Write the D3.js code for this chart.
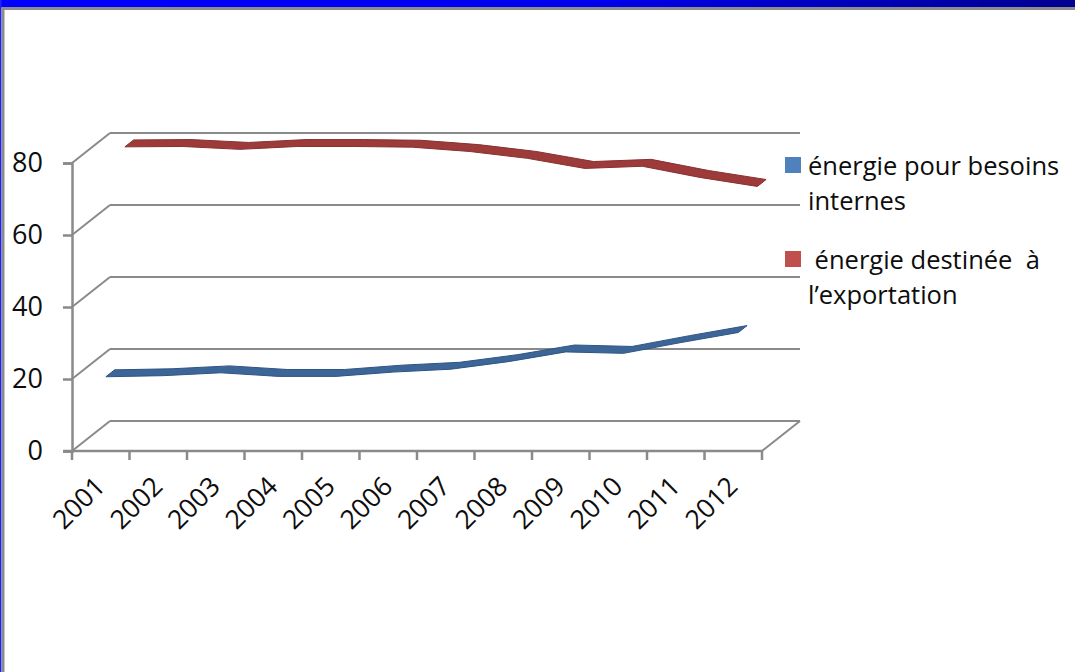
<!DOCTYPE html>
<html>
<head>
<meta charset="utf-8">
<script src="https://cdn.jsdelivr.net/npm/d3@7"></script>
<style>
body { margin: 0; background: #fff; }
svg text { font-family: "Open Sans", sans-serif; fill: #0d0d0d; white-space: pre; }
</style>
</head>
<body>
<div id="chart"></div>
<script>
// data
const years = ['2001', '2002', '2003', '2004', '2005', '2006', '2007', '2008', '2009', '2010', '2011', '2012'];
const interne = [19.5, 19.8, 20.6, 19.6, 19.6, 20.8, 21.6, 23.7, 26.4, 26.0, 29.0, 31.8];
const export_ = [79.2, 79.3, 78.5, 79.3, 79.3, 79.1, 77.9, 76.0, 73.2, 73.8, 70.7, 68.2];
const yTicks = [0, 20, 40, 60, 80];
const seriesNames = [['énergie pour besoins', 'internes'], [' énergie destinée  à', 'l\u2019exportation']];

const W = 1075, H = 672;
const depth = { dx: 38, dy: -30 }; // oblique offset of the back wall

const svg = d3.select('#chart').append('svg')
	.attr('width', W).attr('height', H);

// slide frame: blue bar on top, grey edges
const grad = svg.append('defs').append('linearGradient').attr('id', 'topbar');
grad.append('stop').attr('offset', '0%').attr('stop-color', '#0000ff');
grad.append('stop').attr('offset', '55%').attr('stop-color', '#0000ee');
grad.append('stop').attr('offset', '100%').attr('stop-color', '#000090');
svg.append('rect').attr('x', 0).attr('y', 0).attr('width', W).attr('height', 8).attr('fill', 'url(#topbar)');
svg.append('rect').attr('x', 0).attr('y', 0).attr('width', 1.5).attr('height', H).attr('fill', '#2020ff');
svg.append('rect').attr('x', 1.5).attr('y', 7).attr('width', W).attr('height', 3).attr('fill', '#8c8c8c');
svg.append('rect').attr('x', 1.5).attr('y', 7).attr('width', 3).attr('height', H).attr('fill', '#8c8c8c');

const x = d3.scaleBand().domain(years).range([72, 762]);
const y = d3.scaleLinear().domain([0, 80]).range([451, 163]);
const x0 = x.range()[0], x1 = x.range()[1];

const grey = '#8a8a8a';
const g = svg.append('g');

// back wall gridlines + left side diagonals
yTicks.forEach(v => {
	g.append('line')
		.attr('x1', x0 + depth.dx).attr('y1', y(v) + depth.dy)
		.attr('x2', x1 + depth.dx).attr('y2', y(v) + depth.dy)
		.attr('stroke', grey).attr('stroke-width', 2);
	g.append('line')
		.attr('x1', x0).attr('y1', y(v))
		.attr('x2', x0 + depth.dx).attr('y2', y(v) + depth.dy)
		.attr('stroke', grey).attr('stroke-width', 2);
});
// floor right edge
g.append('line')
	.attr('x1', x1).attr('y1', y(0))
	.attr('x2', x1 + depth.dx).attr('y2', y(0) + depth.dy)
	.attr('stroke', grey).attr('stroke-width', 2);

// value axis
const yAxis = g.append('g').attr('transform', `translate(${x0},0)`)
	.call(d3.axisLeft(y).tickValues(yTicks).tickSize(9).tickPadding(20));
yAxis.select('.domain').attr('stroke', grey).attr('stroke-width', 2.5);
yAxis.selectAll('.tick line').attr('stroke', grey).attr('stroke-width', 2.5);
yAxis.selectAll('.tick text').attr('font-size', 27).attr('fill', '#0d0d0d')
	.attr('font-family', '"Open Sans", sans-serif');

// category axis, ticks on band edges
g.append('line')
	.attr('x1', x0 - 9).attr('y1', y(0)).attr('x2', x1).attr('y2', y(0))
	.attr('stroke', grey).attr('stroke-width', 2.5);
const edges = years.map(d => x(d)).concat([x1]);
g.selectAll('.xtick').data(edges).enter().append('line')
	.attr('class', 'xtick')
	.attr('x1', d => d).attr('x2', d => d)
	.attr('y1', y(0)).attr('y2', y(0) + 9)
	.attr('stroke', grey).attr('stroke-width', 2.5);
g.selectAll('.xlabel').data(years).enter().append('text')
	.attr('class', 'xlabel')
	.attr('text-anchor', 'end')
	.attr('font-size', 26.5)
	.attr('transform', d => `translate(${x(d) + x.bandwidth() / 2 + 6},488) rotate(-45)`)
	.text(d => d);

// 3D ribbons: area between front and back edge of each series' depth slot
function ribbon(values, dMid, halfW) {
	const cx = d => x(d) + x.bandwidth() / 2;
	const f = dMid - halfW, b = dMid + halfW;
	const front = years.map((d, i) => [cx(d) + f * depth.dx, y(values[i]) + f * depth.dy]);
	const back = years.map((d, i) => [cx(d) + b * depth.dx, y(values[i]) + b * depth.dy]);
	return front.concat(back.reverse());
}
const series = [
	{ values: interne, depth: 0.25, fill: '#3d6698', edge: '#2f5482', key: '#4f81bd' },
	{ values: export_, depth: 0.75, fill: '#9c3b3a', edge: '#873130', key: '#c0504d' }
];
series.slice().reverse().forEach(s => {
	g.append('path')
		.attr('d', d3.line()(ribbon(s.values, s.depth, 0.115)) + 'Z')
		.attr('fill', s.fill)
		.attr('stroke', s.edge)
		.attr('stroke-width', 1)
		.attr('stroke-linejoin', 'round');
});

// legend
const legend = svg.append('g');
const legendTop = [157, 251];
series.forEach((s, i) => {
	legend.append('rect')
		.attr('x', 785).attr('y', legendTop[i])
		.attr('width', 16).attr('height', 16)
		.attr('fill', s.key);
	seriesNames[i].forEach((line, j) => {
		legend.append('text')
			.attr('x', 808)
			.attr('y', legendTop[i] + 18 + j * 35)
			.attr('font-size', 25.5)
			.text(line);
	});
});
</script>
</body>
</html>
